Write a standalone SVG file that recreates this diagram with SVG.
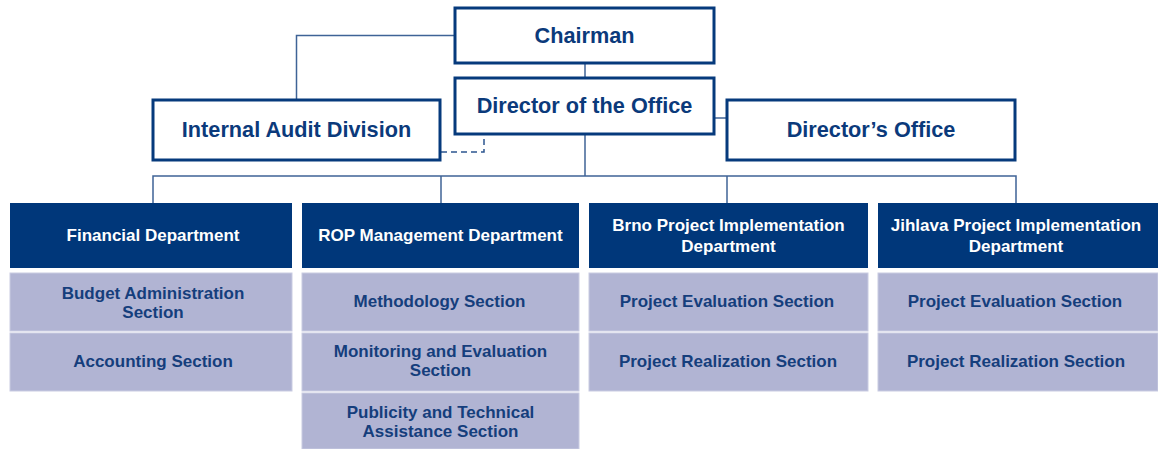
<svg xmlns="http://www.w3.org/2000/svg" width="1158" height="449" viewBox="0 0 1158 449">
<style>
.top{fill:#fff;stroke:#063a7c;stroke-width:3}
.dept{fill:#00377a}
.sec{fill:#b1b4d3;stroke:#c9cce2;stroke-width:1}
.t{font-family:"Liberation Sans",Arial,sans-serif;font-weight:bold;text-anchor:middle}
.tt{font-size:21.7px;fill:#0b3a7b}
.td{font-size:17px;fill:#fff}
.ts{font-size:17px;fill:#153e7c}
.ln{fill:none;stroke:#3f6396;stroke-width:1.5}
.dash{fill:none;stroke:#2d5590;stroke-width:1.5;stroke-dasharray:6 4}
</style>
<rect width="1158" height="449" fill="#fff"/>
<g id="connectors">
<path class="ln" d="M455 35.5H296.5V100"/>
<path class="ln" d="M585 63V78"/>
<path class="ln" d="M714 118H727"/>
<path class="ln" d="M585 134V176"/>
<path class="ln" d="M153 203V176H1016V203"/>
<path class="ln" d="M441 176V203"/>
<path class="ln" d="M727 176V203"/>
<path class="dash" d="M441 152H484V134"/>
</g>
<g id="chairman"><rect class="top" x="455" y="8" width="259" height="55"/><text class="t tt" x="584.5" y="43">Chairman</text></g>
<g id="director"><rect class="top" x="455" y="78" width="259" height="56"/><text class="t tt" x="584.5" y="113">Director of the Office</text></g>
<g id="internal-audit"><rect class="top" x="153" y="100" width="287" height="60"/><text class="t tt" x="296.5" y="137">Internal Audit Division</text></g>
<g id="directors-office"><rect class="top" x="727" y="100" width="288" height="60"/><text class="t tt" x="871" y="137">Director’s Office</text></g>
<g id="financial"><rect class="dept" x="10" y="203" width="282" height="65"/><text class="t td" x="153" y="241">Financial Department</text></g>
<g id="rop"><rect class="dept" x="302" y="203" width="277" height="65"/><text class="t td" x="440.5" y="241">ROP Management Department</text></g>
<g id="brno"><rect class="dept" x="589" y="203" width="279" height="65"/><text class="t td" x="728.5" y="231">Brno Project Implementation</text><text class="t td" x="728.5" y="252">Department</text></g>
<g id="jihlava"><rect class="dept" x="878" y="203" width="280" height="65"/><text class="t td" x="1016" y="231">Jihlava Project Implementation</text><text class="t td" x="1016" y="252">Department</text></g>
<g id="budget"><rect class="sec" x="10" y="273" width="282" height="58"/><text class="t ts" x="153" y="299">Budget Administration</text><text class="t ts" x="153" y="318">Section</text></g>
<g id="accounting"><rect class="sec" x="10" y="333" width="282" height="58"/><text class="t ts" x="153" y="367">Accounting Section</text></g>
<g id="methodology"><rect class="sec" x="302" y="273" width="277" height="58"/><text class="t ts" x="439.5" y="307">Methodology Section</text></g>
<g id="monitoring"><rect class="sec" x="302" y="333" width="277" height="58"/><text class="t ts" x="440.5" y="357">Monitoring and Evaluation</text><text class="t ts" x="440.5" y="376">Section</text></g>
<g id="publicity"><rect class="sec" x="302" y="393" width="277" height="56"/><text class="t ts" x="440.5" y="418">Publicity and Technical</text><text class="t ts" x="440.5" y="437">Assistance Section</text></g>
<g id="brno-eval"><rect class="sec" x="589" y="273" width="279" height="58"/><text class="t ts" x="727" y="307">Project Evaluation Section</text></g>
<g id="brno-real"><rect class="sec" x="589" y="333" width="279" height="58"/><text class="t ts" x="728" y="367">Project Realization Section</text></g>
<g id="jihlava-eval"><rect class="sec" x="878" y="273" width="280" height="58"/><text class="t ts" x="1015" y="307">Project Evaluation Section</text></g>
<g id="jihlava-real"><rect class="sec" x="878" y="333" width="280" height="58"/><text class="t ts" x="1016" y="367">Project Realization Section</text></g>
</svg>
